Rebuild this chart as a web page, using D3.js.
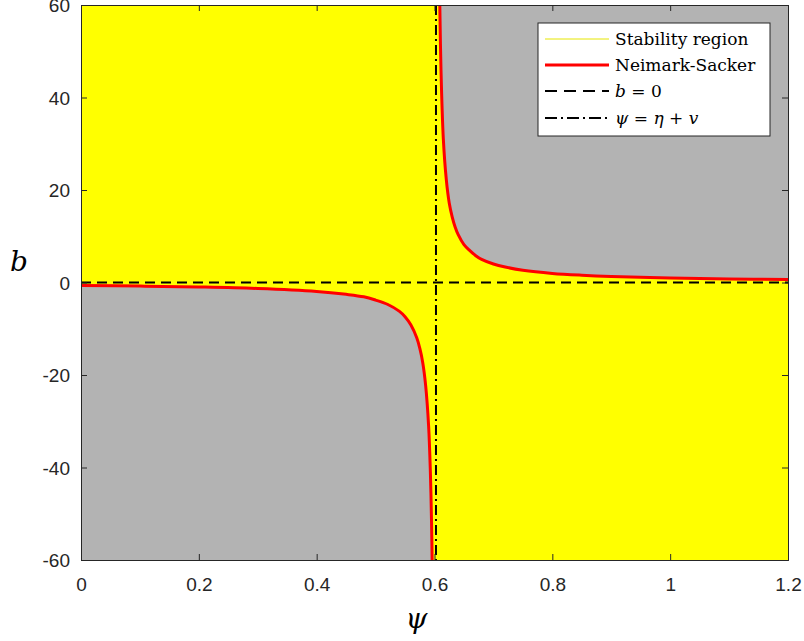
<!DOCTYPE html>
<html><head><meta charset="utf-8">
<script src="https://cdn.jsdelivr.net/npm/d3@7"></script>
<style>body{margin:0;background:#fff}</style>
</head><body>
<svg id="c" width="804" height="641"></svg>
<script>
// Data
const xTicks = [0, 0.2, 0.4, 0.6, 0.8, 1, 1.2];
const yTicks = [-60, -40, -20, 0, 20, 40, 60];
// Neimark-Sacker curve, lower branch (psi, b)
const nsLowerPsi = [0, 0.1, 0.2, 0.3, 0.4, 0.45, 0.48, 0.5, 0.52, 0.54, 0.55, 0.56, 0.57, 0.575, 0.58, 0.585, 0.59, 0.593, 0.595, 0.596];
const nsLowerB   = [-0.65, -0.78, -0.97, -1.29, -1.93, -2.56, -3.1, -3.8, -4.7, -6.2, -7.4, -9.2, -12, -14.2, -17.3, -22.3, -31, -41, -52, -60];
// Neimark-Sacker curve, upper branch (psi, b)
const nsUpperPsi = [0.609, 0.611, 0.615, 0.62, 0.625, 0.63, 0.635, 0.64, 0.65, 0.66, 0.67, 0.68, 0.7, 0.72, 0.75, 0.8, 0.85, 0.9, 1.0, 1.1, 1.2];
const nsUpperB   = [60, 46, 31, 22.3, 17.2, 14.2, 12.0, 10.4, 8.2, 6.9, 5.8, 5.0, 4.0, 3.34, 2.64, 1.97, 1.58, 1.31, 0.98, 0.78, 0.65];
const psiAsym = 0.6025; // psi = eta + v
const legendLabels = ["Stability region", "Neimark-Sacker", "b = 0", "ψ = η + v"];

const svg = d3.select("#c");
const L = 81, R = 788, T = 5, B = 560;
const x = d3.scaleLinear().domain([0, 1.2]).range([L, R]);
const y = d3.scaleLinear().domain([-60, 60]).range([B, T]);
const YEL = "#ffff00", GRY = "#b3b3b3";

const lower = nsLowerPsi.map((p, i) => [p, nsLowerB[i]]);
const upper = nsUpperPsi.map((p, i) => [p, nsUpperB[i]]);

const g = svg.append("g");
g.append("rect").attr("x", L).attr("y", T).attr("width", R - L).attr("height", B - T).attr("fill", YEL);

const cv = d3.curveCatmullRom.alpha(0.5);
const areaUp = d3.area().x(d => x(d[0])).y0(y(60)).y1(d => y(d[1])).curve(cv);
const areaLo = d3.area().x(d => x(d[0])).y0(y(-60)).y1(d => y(d[1])).curve(cv);
g.append("path").attr("d", areaUp(upper)).attr("fill", GRY);
g.append("path").attr("d", areaLo(lower)).attr("fill", GRY);

const line = d3.line().x(d => x(d[0])).y(d => y(d[1])).curve(cv);
// b = 0 dashed
g.append("line").attr("x1", x(0)).attr("x2", x(1.2)).attr("y1", y(0)).attr("y2", y(0))
  .attr("stroke", "#000").attr("stroke-width", 2).attr("stroke-dasharray", "10,6");
// curves
g.append("path").attr("d", line(upper)).attr("fill", "none").attr("stroke", "#ff0000").attr("stroke-width", 3);
g.append("path").attr("d", line(lower)).attr("fill", "none").attr("stroke", "#ff0000").attr("stroke-width", 3);
// asymptote dash-dot
g.append("line").attr("x1", x(psiAsym)).attr("x2", x(psiAsym)).attr("y1", y(60)).attr("y2", y(-60))
  .attr("stroke", "#000").attr("stroke-width", 2).attr("stroke-dasharray", "10,4,2,4");

// axes
const fontAx = "'Liberation Sans', Arial, sans-serif";
const fmt = d => String(d);
const xa = svg.append("g").attr("transform", `translate(0,${B})`)
  .call(d3.axisBottom(x).tickValues(xTicks).tickFormat(fmt).tickSize(-6).tickPadding(18));
const ya = svg.append("g").attr("transform", `translate(${L},0)`)
  .call(d3.axisLeft(y).tickValues(yTicks).tickFormat(fmt).tickSize(-6).tickPadding(11));
const xt = svg.append("g").attr("transform", `translate(0,${T})`)
  .call(d3.axisTop(x).tickValues(xTicks).tickFormat("").tickSize(-6));
const yr = svg.append("g").attr("transform", `translate(${R},0)`)
  .call(d3.axisRight(y).tickValues(yTicks).tickFormat("").tickSize(-6));
[xa, ya, xt, yr].forEach(a => {
  a.selectAll("path.domain").attr("stroke", "#262626").attr("stroke-width", 1);
  a.selectAll(".tick line").attr("stroke", "#262626");
  a.selectAll("text").attr("fill", "#262626").style("font-family", fontAx).style("font-size", "19px");
});
ya.selectAll("text").attr("dy", "0.36em");

// axis labels
svg.append("text").attr("x", x(0.6) - 18).attr("y", 628).attr("text-anchor", "middle")
  .style("font-family", "'DejaVu Serif', serif").style("font-style", "italic").style("font-size", "28px").text("ψ");
svg.append("text").attr("x", 19).attr("y", 271).attr("text-anchor", "middle")
  .style("font-family", "'DejaVu Serif', serif").style("font-style", "italic").style("font-size", "28px").text("b");

// legend
const lg = svg.append("g");
lg.append("rect").attr("x", 538).attr("y", 23).attr("width", 232).attr("height", 113)
  .attr("fill", "#fff").attr("stroke", "#262626").attr("stroke-width", 1);
const rows = [39, 65, 91, 118];
const lx1 = 545, lx2 = 609, tx = 615;
lg.append("line").attr("x1", lx1).attr("x2", lx2).attr("y1", rows[0]).attr("y2", rows[0]).attr("stroke", "#e6e600").attr("stroke-width", 1);
lg.append("line").attr("x1", lx1).attr("x2", lx2).attr("y1", rows[1]).attr("y2", rows[1]).attr("stroke", "#ff0000").attr("stroke-width", 3);
lg.append("line").attr("x1", lx1).attr("x2", lx2).attr("y1", rows[2]).attr("y2", rows[2]).attr("stroke", "#000").attr("stroke-width", 2).attr("stroke-dasharray", "12,7");
lg.append("line").attr("x1", lx1).attr("x2", lx2).attr("y1", rows[3]).attr("y2", rows[3]).attr("stroke", "#000").attr("stroke-width", 2).attr("stroke-dasharray", "12,4,2,4");
const lf = "'DejaVu Serif', serif";
const fs = "17px";
lg.append("text").attr("x", tx).attr("y", rows[0] + 6).style("font-family", lf).style("font-size", fs).text(legendLabels[0]);
lg.append("text").attr("x", tx).attr("y", rows[1] + 6).style("font-family", lf).style("font-size", fs).text(legendLabels[1]);
const t3 = lg.append("text").attr("x", tx).attr("y", rows[2] + 6).style("font-family", lf).style("font-size", fs);
t3.append("tspan").style("font-style", "italic").text("b");
t3.append("tspan").text(" = 0");
const t4 = lg.append("text").attr("x", tx).attr("y", rows[3] + 6).style("font-family", lf).style("font-size", fs);
t4.append("tspan").style("font-style", "italic").text("ψ");
t4.append("tspan").text(" = ");
t4.append("tspan").style("font-style", "italic").text("η");
t4.append("tspan").text(" + ");
t4.append("tspan").style("font-style", "italic").text("v");
</script>
</body></html>
